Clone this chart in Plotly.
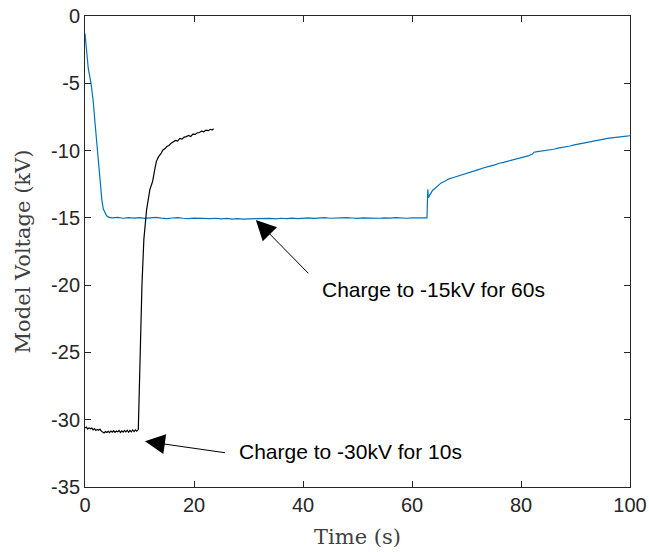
import plotly.graph_objects as go

# Blue trace: charge to -15 kV for 60 s
blue_t = [0.0, 0.2, 0.6, 1.1, 1.5, 1.83, 2.25, 2.75, 3.1, 3.36, 3.7, 3.97, 4.4, 4.9,
          5, 6, 7, 8, 9, 10, 11, 12, 13, 14,
          15, 16, 17, 18, 19, 20, 21, 22, 23, 24,
          25, 26, 27, 28, 29, 30, 31, 32, 33, 34,
          35, 36, 37, 38, 39, 40, 41, 42, 43, 44,
          45, 46, 47, 48, 49, 50, 51, 52, 53, 54,
          55, 56, 57, 58, 59, 60, 61, 62,
          62.6, 62.75, 62.9, 63.0, 63.2, 63.5, 63.8, 64.3, 64.8, 65.3, 66.0, 66.8, 67.6,
          68.4, 69.2, 69.9, 70.7, 71.5, 72.2, 72.9, 73.7, 74.5, 75.2, 76.0, 76.8, 77.5,
          78.3, 79.0, 79.8, 80.6, 81.3, 82.1, 82.4, 83.0, 83.8, 84.5, 85.2, 86.0, 86.8,
          87.5, 88.3, 89.0, 89.8, 90.5, 91.3, 92.1, 92.8, 93.6, 94.4, 95.1, 95.9, 96.6,
          97.4, 98.2, 99.0, 100.0]
blue_v = [-1.3, -2.4, -3.9, -5.0, -6.3, -7.9, -9.95, -12.4, -13.7, -14.35, -14.7, -14.85, -14.96, -15.0,
          -15.00, -14.97, -15.03, -14.99, -15.02, -14.98, -15.04, -15.00, -14.97, -15.02,
          -15.05, -15.01, -14.98, -15.03, -15.06, -15.02, -15.04, -15.08, -15.05, -15.03,
          -15.07, -15.04, -15.09, -15.06, -15.10, -15.07, -15.05, -15.08, -15.06, -15.04,
          -15.07, -15.03, -15.05, -15.02, -15.06, -15.03, -15.00, -15.04, -15.01, -14.99,
          -15.03, -15.00, -15.02, -14.98, -15.01, -15.04, -15.00, -15.02, -14.99, -15.03,
          -15.00, -15.02, -14.98, -15.01, -15.03, -15.00, -14.99, -15.02,
          -15.02, -15.0, -12.87, -13.5, -13.35, -13.15, -12.95, -12.78, -12.6, -12.42, -12.28, -12.1, -12.0,
          -11.9, -11.84, -11.73, -11.62, -11.55, -11.42, -11.31, -11.25, -11.14, -11.06, -10.94, -10.88, -10.8,
          -10.7, -10.64, -10.56, -10.48, -10.4, -10.25, -10.12, -10.08, -10.04, -9.98, -9.95, -9.9, -9.82,
          -9.78, -9.7, -9.66, -9.58, -9.52, -9.45, -9.42, -9.35, -9.28, -9.2, -9.18, -9.1, -9.06,
          -9.0, -8.98, -8.94, -8.9]

# Black trace: charge to -30 kV for 10 s
black_t = [0.0, 0.25, 0.5, 0.75, 1.0, 1.25, 1.5, 1.75, 2.0, 2.25, 2.5, 2.75, 3.0, 3.25, 3.5,
           3.75, 4.0, 4.25, 4.5, 4.75, 5.0, 5.25, 5.5, 5.75, 6.0, 6.25, 6.5, 6.75, 7.0, 7.25,
           7.5, 7.75, 8.0, 8.25, 8.5, 8.75, 9.0, 9.25, 9.5, 9.78,
           9.97, 10.2, 10.45, 10.8, 11.3, 11.9, 12.4, 12.8, 13.1, 13.5, 13.9, 14.3, 14.7,
           15.0, 15.4, 15.8, 16.2, 16.6, 17.0, 17.4, 17.8, 18.2, 18.6, 19.0, 19.4, 19.8,
           20.2, 20.6, 21.0, 21.4, 21.8, 22.2, 22.6, 23.0, 23.3, 23.6]
black_v = [-30.62, -30.55, -30.7, -30.6, -30.68, -30.62, -30.75, -30.66, -30.8, -30.72, -30.78,
           -30.7, -30.85, -30.92, -30.98, -30.88, -30.95, -30.86, -30.96, -30.85, -30.93, -30.82,
           -30.94, -30.84, -30.9, -30.8, -30.95, -30.83, -30.92, -30.8, -30.9, -30.78, -30.93,
           -30.8, -30.9, -30.76, -30.88, -30.75, -30.85, -30.73,
           -27.3, -23.6, -20.0, -16.6, -14.4, -12.9, -12.3, -11.4, -10.8, -10.45, -10.25, -9.95, -9.85,
           -9.7, -9.62, -9.45, -9.38, -9.25, -9.3, -9.1, -9.15, -9.0, -8.96, -8.88, -8.95, -8.78,
           -8.8, -8.68, -8.66, -8.55, -8.6, -8.48, -8.52, -8.42, -8.48, -8.38]

x_ticks = [0, 20, 40, 60, 80, 100]
y_ticks = [0, -5, -10, -15, -20, -25, -30, -35]

ann_text = ["Charge to -15kV for 60s", "Charge to -30kV for 10s"]
ann_head = [(31.35, -15.15), (11.0, -31.6)]
ann_tail = [(41.25, -19.23), (25.97, -32.47)]
ann_label = [(43.1, -20.34), (27.9, -32.37)]

axis_color = "#262626"
sans = "Liberation Sans, Arial, sans-serif"
serif = "DejaVu Serif, serif"

fig = go.Figure()
fig.add_trace(go.Scatter(x=blue_t, y=blue_v, mode="lines",
                         line=dict(color="#0072BD", width=1.2), showlegend=False))
fig.add_trace(go.Scatter(x=black_t, y=black_v, mode="lines",
                         line=dict(color="#000000", width=1.2), showlegend=False))

for txt, h, t, l in zip(ann_text, ann_head, ann_tail, ann_label):
    fig.add_annotation(x=h[0], y=h[1], ax=t[0], ay=t[1], axref="x", ayref="y",
                       xref="x", yref="y", text="", showarrow=True,
                       arrowhead=2, arrowsize=4, arrowwidth=1, arrowcolor="#000000")
    fig.add_annotation(x=l[0], y=l[1], xref="x", yref="y", text=txt, showarrow=False,
                       xanchor="left", yanchor="middle",
                       font=dict(family=sans, size=21, color="#000000"))

fig.update_layout(
    width=649, height=552,
    margin=dict(l=85, r=19, t=16, b=65),
    paper_bgcolor="white", plot_bgcolor="white",
    xaxis=dict(range=[0, 100], tickvals=x_ticks, ticktext=[str(v) for v in x_ticks],
               showgrid=False, zeroline=False, showline=True, linecolor=axis_color,
               linewidth=1, mirror="ticks", ticks="inside", ticklen=6, tickcolor=axis_color,
               tickfont=dict(family=sans, size=20, color=axis_color), automargin=False,
               ticklabeloverflow="allow",
               title=dict(text="Time (s)", font=dict(family=serif, size=21, color="#404040"),
                          standoff=14)),
    yaxis=dict(range=[-35, 0], tickvals=y_ticks, ticktext=[str(v) for v in y_ticks],
               showgrid=False, zeroline=False, showline=True, linecolor=axis_color,
               linewidth=1, mirror="ticks", ticks="inside", ticklen=6, tickcolor=axis_color,
               tickfont=dict(family=sans, size=20, color=axis_color), automargin=False,
               ticklabeloverflow="allow",
               title=dict(text="Model Voltage (kV)", font=dict(family=serif, size=21, color="#404040"),
                          standoff=14)),
)

# remove the page's default body margin so the figure fills the window exactly
fig.write_html("out.html", config={"displayModeBar": False},
               post_script="document.body.style.margin='0';document.body.style.overflow='hidden';")
